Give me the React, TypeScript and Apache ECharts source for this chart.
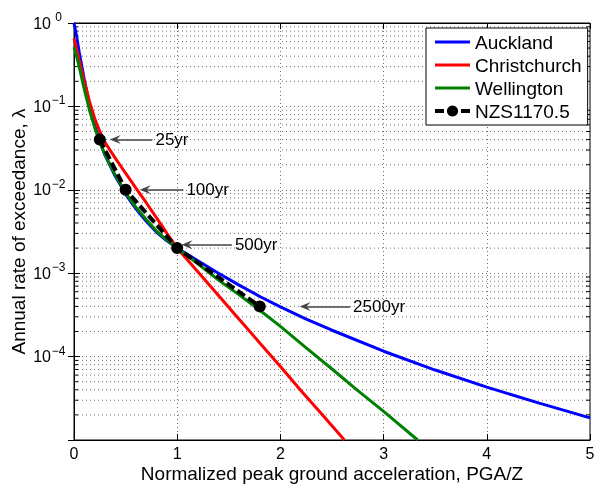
import React, { useEffect, useRef } from 'react';
import * as echarts from 'echarts';

// ---- data ----
const aucklandX = [0, 0.025, 0.05, 0.1, 0.15, 0.2, 0.25, 0.3, 0.4, 0.5, 0.6, 0.7, 0.8, 0.9, 1.0, 1.2, 1.4, 1.6, 1.8, 2.0, 2.25, 2.5, 3.0, 3.5, 4.0, 4.5, 5.0];
const aucklandY = [1.0, 0.7, 0.45, 0.21, 0.105, 0.06, 0.038, 0.026, 0.0145, 0.0089, 0.0059, 0.0042, 0.0031, 0.00245, 0.002, 0.00141, 0.001, 0.00072, 0.000526, 0.000394, 0.000282, 0.000207, 0.000116, 0.000069, 0.000043, 0.0000279, 0.0000184];

const christchurchX = [0, 0.025, 0.05, 0.1, 0.15, 0.2, 0.25, 0.3, 0.4, 0.5, 0.6, 0.7, 0.8, 0.9, 1.0, 1.2, 1.4, 1.6, 1.8, 2.0, 2.2, 2.4, 2.62];
const christchurchY = [0.65, 0.49, 0.36, 0.2, 0.115, 0.072, 0.05, 0.037, 0.024, 0.0158, 0.0105, 0.007, 0.0046, 0.003, 0.002, 0.00104, 0.00054, 0.00028, 0.000146, 0.000076, 0.000039, 0.0000205, 0.00001];

const wellingtonX = [0, 0.025, 0.05, 0.1, 0.15, 0.2, 0.25, 0.3, 0.4, 0.5, 0.6, 0.7, 0.8, 0.9, 1.0, 1.2, 1.4, 1.6, 1.8, 2.0, 2.25, 2.5, 2.75, 3.0, 3.33];
const wellingtonY = [0.515, 0.4, 0.3, 0.16, 0.09, 0.056, 0.037, 0.0265, 0.015, 0.0092, 0.0062, 0.0044, 0.0032, 0.0025, 0.002, 0.0013, 0.00083, 0.00055, 0.00036, 0.00023, 0.000127, 0.000071, 0.000039, 0.000022, 0.00001];

const nzsX = [0.25, 0.5, 1.0, 1.8];
const nzsY = [0.04, 0.01, 0.002, 0.0004];

const returnPeriodLabels = ['25yr', '100yr', '500yr', '2500yr'];
const arrowTipX = [0.4, 0.69, 1.095, 2.24];
const arrowTailX = [0.76, 1.06, 1.53, 2.675];
const arrowY = [0.04, 0.01, 0.0022, 0.0004];

const xMin = 0;
const xMax = 5;
const yMin = 1e-5;
const yMax = 1;
const yMinorMantissas = [2, 3, 4, 5, 6, 7, 8, 9];
const yDecadeExponents = [-5, -4, -3, -2, -1];

const seriesNames = ['Auckland', 'Christchurch', 'Wellington', 'NZS1170.5'];
const seriesColors = ['#0000ff', '#ff0000', '#008000', '#000000'];

const FONT = '"Liberation Sans", Arial, Helvetica, sans-serif';

const zip = (xs: number[], ys: number[]) => xs.map((x, i) => [x, ys[i]]);

const ARROW_HEAD = 'path://M5,0 L10,12 L5,7.5 L0,12 Z';
const LINE_ICON = 'path://M0,0 L35,0 L35,3 L0,3 Z';

export default function App() {
  const ref = useRef<HTMLDivElement>(null);

  useEffect(() => {
    if (!ref.current) return;
    const chart = echarts.init(ref.current, null, { renderer: 'svg' });

    const minorValues: number[] = [];
    yDecadeExponents.forEach((e) => {
      yMinorMantissas.forEach((m) => minorValues.push(m * Math.pow(10, e)));
    });

    const dotted = { type: [1, 3] as any, color: '#6f6f6f', width: 1 };

    const arrowMarks = returnPeriodLabels.map((label, i) => [
      {
        coord: [arrowTipX[i], arrowY[i]],
        name: label,
        symbol: ARROW_HEAD,
        symbolSize: [9, 11],
      },
      { coord: [arrowTailX[i], arrowY[i]], symbol: 'none' },
    ]);

    const yLabel = (value: number) => {
      const exp = Math.round(Math.log10(value));
      if (exp <= -5) return '';
      const e = exp === 0 ? '0' : '\u2212' + String(-exp);
      return `{b|10}{s|${e}}`;
    };

    const axisCommon = {
      axisLine: { show: true, lineStyle: { color: '#000', width: 1 } },
      axisTick: { show: true, inside: true, length: 6, lineStyle: { color: '#000' } },
    };

    const minorRender = (params: any, api: any) => {
      const v = api.value(1);
      const p0 = api.coord([xMin, v]);
      const p1 = api.coord([xMax, v]);
      return {
        type: 'group',
        children: [
          {
            type: 'line',
            shape: { x1: p0[0], y1: p0[1], x2: p1[0], y2: p1[1] },
            style: { stroke: '#6f6f6f', lineWidth: 1, lineDash: [1, 3] },
          },
          {
            type: 'line',
            shape: { x1: p0[0], y1: p0[1], x2: p0[0] + 4, y2: p0[1] },
            style: { stroke: '#000', lineWidth: 1 },
          },
          {
            type: 'line',
            shape: { x1: p1[0] - 4, y1: p1[1], x2: p1[0], y2: p1[1] },
            style: { stroke: '#000', lineWidth: 1 },
          },
        ],
      };
    };

    const option: any = {
      animation: false,
      textStyle: { fontFamily: FONT },
      grid: {
        left: 74,
        right: 4,
        top: 23,
        bottom: 44,
        containLabel: false,
        outerBoundsMode: 'none',
        show: true,
        borderColor: '#000',
        borderWidth: 1,
        backgroundColor: '#fff',
      },
      legend: {
        data: [
          { name: seriesNames[0], icon: LINE_ICON },
          { name: seriesNames[1], icon: LINE_ICON },
          { name: seriesNames[2], icon: LINE_ICON },
          { name: seriesNames[3], lineStyle: { width: 4 } },
        ],
        orient: 'vertical',
        left: 426,
        top: 28,
        backgroundColor: '#fff',
        borderColor: '#000',
        borderWidth: 1,
        borderRadius: 0,
        padding: [4, 6, 4, 7],
        itemWidth: 35,
        itemHeight: 14,
        itemGap: 3,
        textStyle: { fontSize: 19, color: '#000', fontFamily: FONT, lineHeight: 20 },
      },
      xAxis: [
        {
          type: 'value',
          min: xMin,
          max: xMax,
          interval: 1,
          ...axisCommon,
          axisLabel: { fontSize: 16, color: '#000', margin: 5, fontFamily: FONT },
          splitLine: { show: true, lineStyle: dotted },
          name: 'Normalized peak ground acceleration, PGA/Z',
          nameLocation: 'middle',
          nameGap: 23.7,
          nameMoveOverlap: false,
          nameTextStyle: { fontSize: 19, color: '#000', fontFamily: FONT },
        },
        {
          type: 'value',
          position: 'top',
          min: xMin,
          max: xMax,
          interval: 1,
          ...axisCommon,
          axisLabel: { show: false },
          splitLine: { show: false },
        },
      ],
      yAxis: [
        {
          type: 'log',
          logBase: 10,
          min: yMin,
          max: yMax,
          ...axisCommon,
          axisLabel: {
            color: '#000',
            margin: 8,
            fontFamily: FONT,
            formatter: yLabel,
            rich: {
              b: { fontSize: 16, lineHeight: 24, fontFamily: FONT, color: '#000' },
              s: { fontSize: 12, lineHeight: 12, verticalAlign: 'top', width: 15, align: 'left', fontFamily: FONT, color: '#000' },
            },
          },
          splitLine: { show: true, lineStyle: dotted },
          name: 'Annual rate of exceedance, \u03bb',
          nameLocation: 'middle',
          nameGap: 46,
          nameMoveOverlap: false,
          nameTextStyle: { fontSize: 19, color: '#000', fontFamily: FONT },
        },
        {
          type: 'log',
          logBase: 10,
          position: 'right',
          min: yMin,
          max: yMax,
          ...axisCommon,
          axisLabel: { show: false },
          splitLine: { show: false },
        },
      ],
      series: [
        {
          name: 'minorGrid',
          type: 'custom',
          data: minorValues.map((v) => [xMin, v]),
          renderItem: minorRender,
          silent: true,
          z: 1,
          clip: false,
        },
        {
          name: seriesNames[0],
          type: 'line',
          data: zip(aucklandX, aucklandY),
          symbol: 'none',
          lineStyle: { color: seriesColors[0], width: 3 },
          itemStyle: { color: seriesColors[0] },
          z: 2,
        },
        {
          name: seriesNames[1],
          type: 'line',
          data: zip(christchurchX, christchurchY),
          symbol: 'none',
          lineStyle: { color: seriesColors[1], width: 3 },
          itemStyle: { color: seriesColors[1] },
          z: 3,
        },
        {
          name: seriesNames[2],
          type: 'line',
          data: zip(wellingtonX, wellingtonY),
          symbol: 'none',
          lineStyle: { color: seriesColors[2], width: 3 },
          itemStyle: { color: seriesColors[2] },
          z: 4,
        },
        {
          name: seriesNames[3],
          type: 'line',
          data: zip(nzsX, nzsY),
          symbol: 'circle',
          symbolSize: 12,
          showSymbol: true,
          lineStyle: { color: seriesColors[3], width: 4, type: [9, 4] },
          itemStyle: { color: seriesColors[3] },
          z: 5,
        },
        {
          name: 'annotHelper',
          type: 'line',
          data: [],
          z: 6,
          silent: true,
          markLine: {
            silent: true,
            z: 6,
            symbol: ['none', 'none'],
            lineStyle: { color: '#444', width: 1.5, type: 'solid' },
            label: {
              show: true,
              position: 'end',
              formatter: '{b}',
              distance: 3,
              color: '#000',
              fontSize: 17,
              fontFamily: FONT,
            },
            emphasis: { disabled: true },
            data: arrowMarks,
          },
        },
      ],
    };

    chart.setOption(option);
    return () => chart.dispose();
  }, []);

  return <div ref={ref} style={{ position: 'fixed', left: 0, top: 0, width: 594, height: 484 }} />;
}
